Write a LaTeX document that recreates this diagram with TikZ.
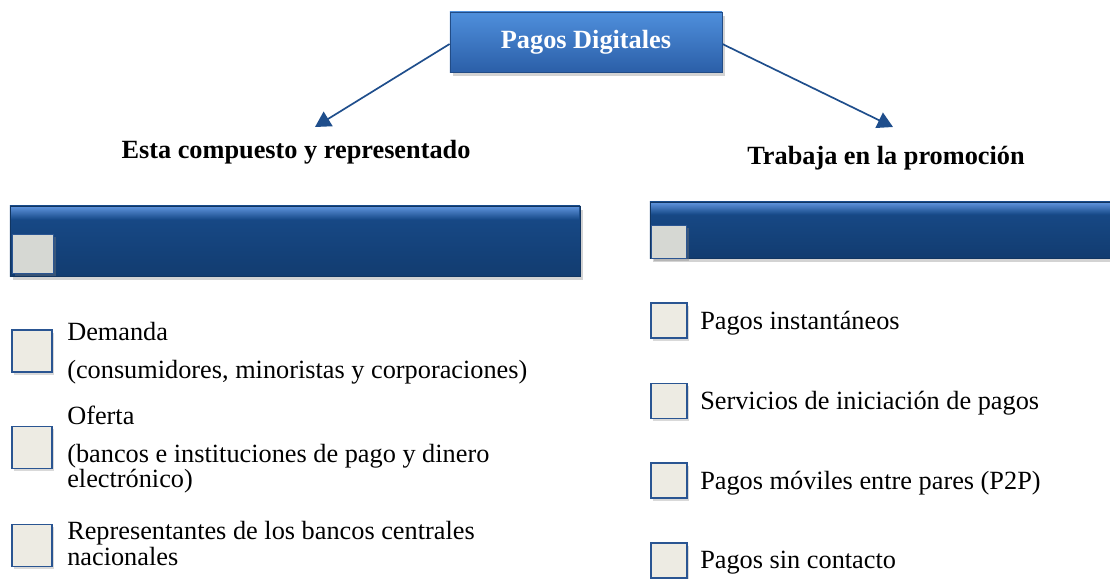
\documentclass[tikz,border=0pt]{standalone}
\usepackage{fontspec}
\setmainfont{Liberation Serif}
\usetikzlibrary{arrows.meta,shadows}

\definecolor{bluetop}{HTML}{4F8FDC}
\definecolor{bluebot}{HTML}{2B5FA8}
\definecolor{bardark}{HTML}{184B8A}
\definecolor{barlow}{HTML}{123C70}
\definecolor{barlight}{HTML}{5B90D8}
\definecolor{arrowblue}{HTML}{1F4E8C}
\definecolor{boxfill}{HTML}{EDEBE3}
\definecolor{boxline}{HTML}{2A5592}
\definecolor{greybox}{HTML}{D6D8D3}

\tikzset{
  mainbox/.style={draw=bluebot!80!black, line width=0.5pt, top color=bluetop,
    bottom color=bluebot, text=white, font=\fontsize{18.7}{22}\selectfont\bfseries,
    drop shadow={opacity=0.35, shadow xshift=2pt, shadow yshift=-2.5pt}},
  bar/.style={draw=bardark!70!black, line width=0.5pt, top color=bardark,
    bottom color=barlow, drop shadow={opacity=0.35, shadow xshift=2pt, shadow yshift=-2.5pt}},
  barshine/.style={top color=barlight, bottom color=bardark},
  barsquare/.style={draw=boxline, line width=0.6pt, fill=greybox,
    drop shadow={opacity=0.35, shadow xshift=2pt, shadow yshift=-2pt}},
  itembox/.style={draw=boxline, line width=1.3pt, fill=boxfill,
    drop shadow={opacity=0.3, shadow xshift=1.5pt, shadow yshift=-2pt}},
  itemtext/.style={anchor=base west, inner sep=0pt, font=\fontsize{18.7}{22}\selectfont},
  headtext/.style={anchor=base, inner sep=0pt, font=\fontsize{18.7}{22}\selectfont\bfseries},
  link/.style={draw=arrowblue, line width=1.2pt, -{Triangle[length=11pt,width=12pt]}},
}

\begin{document}
\begin{tikzpicture}[x=0.025cm, y=-0.025cm]
  \useasboundingbox (0,0) rectangle (1110,578);

  % top box
  \node[mainbox, minimum width=6.8cm, minimum height=1.5cm] (pd) at (586,42) {Pagos Digitales};

  \coordinate (tl) at (315,127);
  \coordinate (tr) at (893,127);
  \draw[link] (pd.west) ++(0,2) -- (tl);
  \draw[link] (pd.east) ++(0,2) -- (tr);

  \node[headtext] (comp) at (296,158) {Esta compuesto y representado};
  \node[headtext] (trab) at (886,164) {Trabaja en la promoción};

  % bars
  \node[bar, minimum width=14.25cm, minimum height=1.75cm] (barl) at (295,241) {};
  \shade[barshine] (11,207) rectangle (579,219);
  \node[barsquare, minimum width=1.025cm, minimum height=0.975cm] (sql) at (32.5,253.5) {};

  \node[bar, minimum width=11.875cm, minimum height=1.4cm] (barr) at (887.5,230) {};
  \shade[barshine] (651,203) rectangle (1124,214);
  \node[barsquare, minimum width=0.875cm, minimum height=0.825cm] (sqr) at (668.5,241.5) {};

  % left items
  \node[itembox, minimum width=1cm, minimum height=1.05cm] (l1) at (32,351) {};
  \node[itembox, minimum width=1cm, minimum height=1.05cm] (l2) at (32,447.5) {};
  \node[itembox, minimum width=1cm, minimum height=1.05cm] (l3) at (32,545.5) {};

  \node[itemtext] (t1a) at (67,340) {Demanda};
  \node[itemtext] (t1b) at (67,378) {(consumidores, minoristas y corporaciones)};
  \node[itemtext] (t2a) at (67,424) {Oferta};
  \node[itemtext] (t2b) at (67,462) {(bancos e instituciones de pago y dinero};
  \node[itemtext] (t2c) at (67,487) {electrónico)};
  \node[itemtext] (t3a) at (67,539) {Representantes de los bancos centrales};
  \node[itemtext] (t3b) at (67,565) {nacionales};

  % right items
  \node[itembox, minimum width=0.9cm, minimum height=0.875cm] (r1) at (669,320.5) {};
  \node[itembox, minimum width=0.9cm, minimum height=0.875cm] (r2) at (669,401) {};
  \node[itembox, minimum width=0.9cm, minimum height=0.875cm] (r3) at (669,480.5) {};
  \node[itembox, minimum width=0.9cm, minimum height=0.875cm] (r4) at (669,560.5) {};

  \node[itemtext] (s1) at (700,329) {Pagos instantáneos};
  \node[itemtext] (s2) at (700,409) {Servicios de iniciación de pagos};
  \node[itemtext] (s3) at (700,489) {Pagos móviles entre pares (P2P)};
  \node[itemtext] (s4) at (700,568) {Pagos sin contacto};
\end{tikzpicture}
\end{document}
